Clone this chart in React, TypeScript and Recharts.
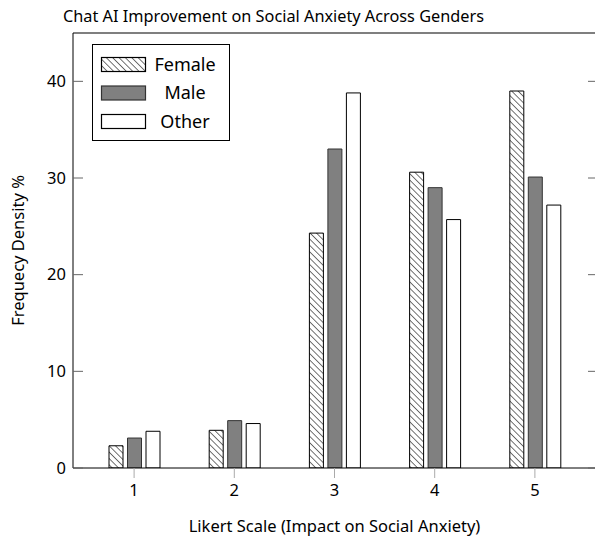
import React from "react";
import { BarChart, Bar, XAxis, YAxis, ReferenceLine } from "recharts";

const likert = ["1", "2", "3", "4", "5"];
const female = [2.3, 3.9, 24.3, 30.6, 39.0];
const male = [3.1, 4.9, 33.0, 29.0, 30.1];
const other = [3.8, 4.6, 38.8, 25.7, 27.2];
const yTicks = [0, 10, 20, 30, 40];

const data = likert.map((k, i) => ({
  k,
  Female: female[i],
  Male: male[i],
  Other: other[i],
}));

const font = "'Noto Sans', sans-serif";

const LeftTick = (props: any) => {
  const { x, y, payload } = props;
  return (
    <g>
      <line x1={x} x2={x + 10} y1={y} y2={y} stroke="#666" />
      <text x={x - 7} y={y} dy="0.35em" textAnchor="end" fontSize={16.5} fill="#000" fontFamily={font}>
        {payload.value}
      </text>
    </g>
  );
};

const RightTick = (props: any) => {
  const { x, y } = props;
  return <line x1={x - 8} x2={x} y1={y} y2={y} stroke="#666" />;
};

const legendItems = [
  { name: "Female", fill: "url(#hatchL)", stroke: "#000" },
  { name: "Male", fill: "#808080", stroke: "#333" },
  { name: "Other", fill: "#fff", stroke: "#000" },
];

const HatchPattern = ({ id }: { id: string }) => (
  <pattern id={id} patternUnits="userSpaceOnUse" width="4.5" height="4.5" patternTransform="rotate(-45)">
    <rect width="4.5" height="4.5" fill="#fff" />
    <line x1="0" y1="0" x2="0" y2="4.5" stroke="#000" strokeWidth="1.1" />
  </pattern>
);

const LegendBox = () => (
  <div
    style={{
      position: "absolute",
      left: 92,
      top: 44,
      border: "1.5px solid #000",
      background: "#fff",
      width: 138,
      height: 97,
      boxSizing: "border-box",
    }}
  >
    <svg width={135} height={94} style={{ display: "block" }}>
      <defs>
        <HatchPattern id="hatchL" />
      </defs>
      {legendItems.map((it, i) => (
        <g key={it.name}>
          <rect x={8.5} y={12.5 + i * 28.5} width={44} height={14} fill={it.fill} stroke={it.stroke} strokeWidth={1.2} />
          <text x={92} y={19.5 + i * 28.5} dy="0.35em" textAnchor="middle" fontSize={18} fontFamily={font} fill="#000">
            {it.name}
          </text>
        </g>
      ))}
    </svg>
  </div>
);

export default function App() {
  return (
    <div style={{ position: "absolute", left: 0, top: 0, width: 595, height: 538, overflow: "hidden", background: "#fff" }}>
      <BarChart
        width={597}
        height={538}
        data={data}
        margin={{ top: 33, right: 0, left: 0, bottom: 0 }}
        barCategoryGap={0}
        barGap={4.5}
      >
        <defs>
          <HatchPattern id="hatch" />
        </defs>
        <text x={63} y={22} fontSize={16.3} fontFamily={font} fill="#000">
          Chat AI Improvement on Social Anxiety Across Genders
        </text>
        <XAxis
          dataKey="k"
          height={70}
          padding={{ left: 11, right: 11 }}
          axisLine={{ stroke: "#000" }}
          tickLine={{ stroke: "#aaa" }}
          tickSize={10}
          tickMargin={6}
          tick={{ fill: "#000", fontSize: 16.5, fontFamily: font }}
          label={{
            value: "Likert Scale (Impact on Social Anxiety)",
            position: "insideBottom",
            offset: 6,
            fill: "#000",
            fontSize: 16.5,
            fontFamily: font,
          }}
        />
        <YAxis
          yAxisId="l"
          width={73}
          domain={[0, 45]}
          ticks={yTicks}
          allowDataOverflow
          axisLine={{ stroke: "#000" }}
          tickLine={false}
          tickSize={0}
          tickMargin={0}
          tick={<LeftTick />}
          label={{
            value: "Frequecy Density %",
            angle: -90,
            position: "insideLeft",
            offset: 18,
            style: { textAnchor: "middle" },
            fill: "#000",
            fontSize: 16.5,
            fontFamily: font,
          }}
        />
        <YAxis
          yAxisId="r"
          orientation="right"
          width={1}
          domain={[0, 45]}
          ticks={yTicks}
          allowDataOverflow
          axisLine={{ stroke: "#000" }}
          tickLine={false}
          tickSize={0}
          tickMargin={0}
          tick={<RightTick />}
        />
        <ReferenceLine yAxisId="l" y={45} stroke="#555" strokeWidth={1.5} />
        <Bar yAxisId="l" dataKey="Female" barSize={14} fill="url(#hatch)" stroke="#000" strokeWidth={1} isAnimationActive={false} />
        <Bar yAxisId="l" dataKey="Male" barSize={14} fill="#808080" stroke="#333" strokeWidth={1} isAnimationActive={false} />
        <Bar yAxisId="l" dataKey="Other" barSize={14} fill="#fff" stroke="#000" strokeWidth={1} isAnimationActive={false} />
      </BarChart>
      <LegendBox />
    </div>
  );
}
